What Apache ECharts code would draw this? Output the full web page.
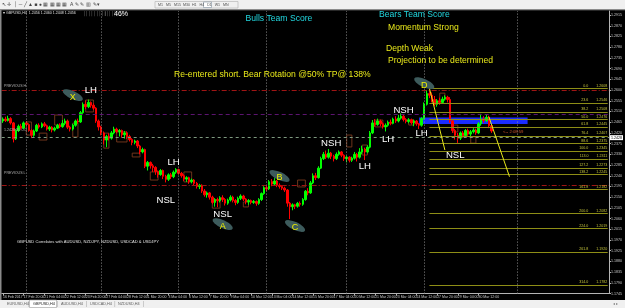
<!DOCTYPE html>
<html><head><meta charset="utf-8">
<script src="https://cdn.jsdelivr.net/npm/echarts@6/dist/echarts.min.js"></script>
<style>html,body{margin:0;padding:0;background:#000;}#c{width:625px;height:308px;}</style>
</head><body><div id="c"></div>
<script>
// ---- data ----
const tickLabels = ["16 Feb 2017","17 Feb 20:00","21 Feb 04:00","22 Feb 12:00","23 Feb 20:00","27 Feb 04:00","28 Feb 12:00","1 Mar 20:00","3 Mar 04:00","6 Mar 12:00","7 Mar 20:00","9 Mar 04:00","10 Mar 12:00","13 Mar 04:00","14 Mar 12:00","15 Mar 20:00","17 Mar 04:00","20 Mar 12:00","21 Mar 20:00","23 Mar 04:00","24 Mar 12:00","27 Mar 20:00","29 Mar 04:00","30 Mar 12:00"];
const barsPerTick = 8;
const totalSlots = 235; // bars + empty space on the right (chart shift)

const opens = [1.2470,1.2478,1.2472,1.2480,1.2462,1.2395,1.2430,1.2448,1.2440,1.2462,
 1.2455,1.2430,1.2410,1.2428,1.2452,1.2445,1.2458,1.2450,1.2436,1.2444,
 1.2432,1.2440,1.2452,1.2446,1.2460,1.2470,1.2444,1.2436,1.2452,1.2470,
 1.2466,1.2505,1.2540,1.2530,1.2548,1.2536,1.2524,1.2470,1.2445,1.2420,
 1.2390,1.2405,1.2398,1.2420,1.2436,1.2425,1.2430,1.2412,1.2420,1.2405,
 1.2392,1.2380,1.2386,1.2365,1.2340,1.2350,1.2280,1.2296,1.2282,1.2275,
 1.2258,1.2245,1.2262,1.2238,1.2225,1.2244,1.2236,1.2255,1.2266,1.2250,
 1.2240,1.2226,1.2232,1.2215,1.2222,1.2208,1.2195,1.2200,1.2176,1.2160,
 1.2168,1.2150,1.2128,1.2140,1.2135,1.2148,1.2140,1.2125,1.2138,1.2150,
 1.2136,1.2128,1.2145,1.2155,1.2142,1.2130,1.2136,1.2128,1.2132,1.2124,
 1.2140,1.2165,1.2190,1.2185,1.2215,1.2205,1.2218,1.2200,1.2195,1.2188,
 1.2180,1.2125,1.2110,1.2118,1.2112,1.2124,1.2120,1.2140,1.2175,1.2168,
 1.2210,1.2240,1.2232,1.2272,1.2312,1.2330,1.2318,1.2335,1.2322,1.2312,
 1.2330,1.2340,1.2326,1.2312,1.2318,1.2305,1.2314,1.2330,1.2318,1.2340,
 1.2352,1.2340,1.2360,1.2420,1.2462,1.2455,1.2470,1.2458,1.2445,1.2452,
 1.2465,1.2460,1.2478,1.2470,1.2482,1.2490,1.2476,1.2468,1.2475,1.2462,
 1.2470,1.2458,1.2452,1.2480,1.2540,1.2585,1.2578,1.2560,1.2540,1.2555,
 1.2548,1.2562,1.2570,1.2560,1.2470,1.2430,1.2410,1.2398,1.2420,1.2408,
 1.2430,1.2415,1.2425,1.2432,1.2420,1.2458,1.2478,1.2472,1.2485,1.2450];
const closes = [1.2478,1.2472,1.2480,1.2462,1.2395,1.2430,1.2448,1.2440,1.2462,1.2455,
 1.2430,1.2410,1.2428,1.2452,1.2445,1.2458,1.2450,1.2436,1.2444,1.2432,
 1.2440,1.2452,1.2446,1.2460,1.2470,1.2444,1.2436,1.2452,1.2470,1.2466,
 1.2505,1.2540,1.2530,1.2548,1.2536,1.2524,1.2470,1.2445,1.2420,1.2390,
 1.2405,1.2398,1.2420,1.2436,1.2425,1.2430,1.2412,1.2420,1.2405,1.2392,
 1.2380,1.2386,1.2365,1.2340,1.2350,1.2280,1.2296,1.2282,1.2275,1.2258,
 1.2245,1.2262,1.2238,1.2225,1.2244,1.2236,1.2255,1.2266,1.2250,1.2240,
 1.2226,1.2232,1.2215,1.2222,1.2208,1.2195,1.2200,1.2176,1.2160,1.2168,
 1.2150,1.2128,1.2140,1.2135,1.2148,1.2140,1.2125,1.2138,1.2150,1.2136,
 1.2128,1.2145,1.2155,1.2142,1.2130,1.2136,1.2128,1.2132,1.2124,1.2140,
 1.2165,1.2190,1.2185,1.2215,1.2205,1.2218,1.2200,1.2195,1.2188,1.2180,
 1.2125,1.2110,1.2118,1.2112,1.2124,1.2120,1.2140,1.2175,1.2168,1.2210,
 1.2240,1.2232,1.2272,1.2312,1.2330,1.2318,1.2335,1.2322,1.2312,1.2330,
 1.2340,1.2326,1.2312,1.2318,1.2305,1.2314,1.2330,1.2318,1.2340,1.2352,
 1.2340,1.2360,1.2420,1.2462,1.2455,1.2470,1.2458,1.2445,1.2452,1.2465,
 1.2460,1.2478,1.2470,1.2482,1.2490,1.2476,1.2468,1.2475,1.2462,1.2470,
 1.2458,1.2452,1.2480,1.2540,1.2585,1.2578,1.2560,1.2540,1.2555,1.2548,
 1.2562,1.2570,1.2560,1.2470,1.2430,1.2410,1.2398,1.2420,1.2408,1.2430,
 1.2415,1.2425,1.2432,1.2420,1.2458,1.2478,1.2472,1.2485,1.2450,1.2428];
const lows = [1.2462,1.2466,1.2468,1.2455,1.2380,1.2390,1.2424,1.2433,1.2436,1.2446,
 1.2425,1.2398,1.2404,1.2424,1.2438,1.2440,1.2444,1.2430,1.2428,1.2422,
 1.2426,1.2436,1.2440,1.2442,1.2452,1.2436,1.2426,1.2430,1.2446,1.2458,
 1.2462,1.2500,1.2520,1.2524,1.2526,1.2516,1.2462,1.2430,1.2410,1.2372,
 1.2360,1.2388,1.2392,1.2414,1.2418,1.2405,1.2400,1.2396,1.2395,1.2384,
 1.2368,1.2372,1.2356,1.2330,1.2334,1.2272,1.2262,1.2270,1.2256,1.2244,
 1.2232,1.2240,1.2226,1.2212,1.2218,1.2226,1.2230,1.2248,1.2244,1.2232,
 1.2218,1.2214,1.2206,1.2208,1.2200,1.2186,1.2184,1.2168,1.2152,1.2148,
 1.2140,1.2120,1.2110,1.2108,1.2128,1.2130,1.2115,1.2118,1.2132,1.2128,
 1.2116,1.2122,1.2138,1.2134,1.2120,1.2118,1.2120,1.2122,1.2114,1.2118,
 1.2134,1.2160,1.2176,1.2180,1.2196,1.2200,1.2192,1.2186,1.2180,1.2172,
 1.2110,1.2058,1.2095,1.2100,1.2106,1.2110,1.2114,1.2135,1.2158,1.2164,
 1.2205,1.2222,1.2228,1.2268,1.2306,1.2310,1.2312,1.2310,1.2300,1.2306,
 1.2324,1.2318,1.2302,1.2296,1.2296,1.2298,1.2308,1.2300,1.2312,1.2330,
 1.2306,1.2334,1.2355,1.2415,1.2446,1.2450,1.2448,1.2438,1.2426,1.2446,
 1.2452,1.2456,1.2462,1.2464,1.2476,1.2468,1.2460,1.2460,1.2455,1.2448,
 1.2450,1.2436,1.2446,1.2476,1.2535,1.2566,1.2548,1.2532,1.2530,1.2538,
 1.2544,1.2556,1.2548,1.2462,1.2420,1.2392,1.2378,1.2390,1.2400,1.2402,
 1.2408,1.2400,1.2418,1.2412,1.2415,1.2450,1.2462,1.2466,1.2440,1.2420];
const highs = [1.2485,1.2488,1.2492,1.2486,1.2466,1.2436,1.2455,1.2458,1.2468,1.2470,
 1.2460,1.2436,1.2434,1.2458,1.2460,1.2464,1.2466,1.2455,1.2450,1.2448,
 1.2446,1.2458,1.2460,1.2474,1.2480,1.2476,1.2450,1.2458,1.2476,1.2480,
 1.2512,1.2548,1.2556,1.2560,1.2552,1.2544,1.2528,1.2476,1.2450,1.2426,
 1.2412,1.2418,1.2428,1.2446,1.2442,1.2436,1.2434,1.2428,1.2426,1.2412,
 1.2398,1.2392,1.2390,1.2370,1.2358,1.2354,1.2302,1.2300,1.2290,1.2280,
 1.2262,1.2268,1.2266,1.2244,1.2250,1.2252,1.2262,1.2272,1.2270,1.2256,
 1.2246,1.2238,1.2236,1.2228,1.2226,1.2214,1.2206,1.2204,1.2184,1.2174,
 1.2172,1.2156,1.2146,1.2148,1.2154,1.2158,1.2146,1.2144,1.2158,1.2156,
 1.2142,1.2152,1.2162,1.2160,1.2146,1.2142,1.2140,1.2138,1.2136,1.2146,
 1.2170,1.2196,1.2198,1.2222,1.2226,1.2230,1.2222,1.2208,1.2200,1.2194,
 1.2184,1.2130,1.2124,1.2122,1.2130,1.2132,1.2146,1.2180,1.2188,1.2218,
 1.2250,1.2252,1.2280,1.2320,1.2340,1.2346,1.2352,1.2340,1.2328,1.2338,
 1.2346,1.2344,1.2330,1.2324,1.2322,1.2320,1.2340,1.2336,1.2356,1.2366,
 1.2358,1.2368,1.2428,1.2474,1.2478,1.2480,1.2476,1.2464,1.2460,1.2472,
 1.2476,1.2484,1.2490,1.2496,1.2502,1.2495,1.2482,1.2482,1.2480,1.2476,
 1.2474,1.2462,1.2486,1.2548,1.2600,1.2608,1.2590,1.2575,1.2562,1.2568,
 1.2572,1.2578,1.2576,1.2570,1.2476,1.2436,1.2420,1.2426,1.2428,1.2436,
 1.2438,1.2432,1.2440,1.2438,1.2465,1.2500,1.2490,1.2495,1.2492,1.2456];

const fibRatios = ['0.0','23.6','38.2','50.0','61.8','76.4','88.6','100.0','113.0','127.2','138.2','161.8','200.0','224.0','261.8','314.0'];
const fibPrices = [1.2608,1.2546,1.2508,1.2476,1.2445,1.2407,1.2375,1.2345,1.2311,1.2273,1.2245,1.2182,1.2082,1.2019,1.1920,1.1782];
const fibStartBar = 165;
const currentPrice = 1.2428;
const prevHigh = 1.2610, prevLow = 1.2245, pivotLine = 1.2487;
const separators = [9, 38, 68, 102, 133, 163, 199];
const waveMarks = [['X',27,1.2579],['A',85,1.2037],['B',107,1.2239],['C',113,1.2029],['D',163,1.2629]];
const swingLabels = [['LH',34,1.2600],['LH',66,1.2298],['NSL',63,1.2138],['NSL',85,1.2079],['NSH',127,1.2377],['LH',140,1.2281],['LH',149,1.2394],['NSH',155,1.2516],['LH',162,1.2419],['NSL',175,1.2327]];
const diagLines = [[[165,1.2608],[171,1.2348]],[[188,1.2488],[196,1.2236]]];
const blueZone = [[161,1.2485],[203,1.2457]];
// brown swing boxes: [fromBar, toBar, top, bottom]
const swingBoxes = [[9,11,1.2466,1.2411],[14,17,1.2419,1.2390],[20,23,1.2495,1.2453],[27,29,1.2461,1.2403],
 [32,35,1.2558,1.2508],[39,41,1.2419,1.2356],[44,48,1.2424,1.2382],[50,53,1.2335,1.2319],[57,60,1.2256,1.2222],
 [70,73,1.2256,1.2214],[81,84,1.2138,1.2104],[93,95,1.2130,1.2109],[114,117,1.2222,1.2193],[133,135,1.2411,1.2361],
 [139,141,1.2369,1.2327],[144,147,1.2474,1.2445],[157,159,1.2474,1.2453],[169,171,1.2587,1.2558],[174,176,1.2453,1.2424],[181,183,1.2403,1.2377]];

// ---- build chart ----
const categories = [];
for (let i = 0; i < totalSlots; i++) categories.push(String(i));
const candles = opens.map((o, i) => [o, closes[i], lows[i], highs[i]]);
const isTick = (idx) => idx % barsPerTick === 0 && idx / barsPerTick < tickLabels.length;
const FONT = 'Liberation Sans, Arial, sans-serif';

const mlData = [];
mlData.push({yAxis: prevHigh, lineStyle:{color:'#a01414', type:[5,2,1,2], width:1}});
mlData.push({yAxis: pivotLine, lineStyle:{color:'#5c1470', type:[4,3], width:1}});
mlData.push({yAxis: prevLow, lineStyle:{color:'#a01414', type:[5,2,1,2], width:1}});
mlData.push({yAxis: currentPrice, lineStyle:{color:'#7f9a80', type:[3,3], width:1},
  label:{show:true, position:'end', formatter: currentPrice.toFixed(4), color:'#000', backgroundColor:'#fff', fontSize:3.6, padding:[1,1,0,1], distance:1}});
separators.forEach(s => mlData.push({xAxis: s, lineStyle:{color:'#8a8a8a', type:[1,2], width:1}}));
fibPrices.forEach((p, k) => mlData.push([
  {coord:[fibStartBar, p], lineStyle:{color:'#8e8e16', type:'solid', width:1},
   label:{show:true, position:'insideEndTop', formatter: fibRatios[k] + '        ' + p.toFixed(4), color:'#c4c43c', fontSize:3.6, distance:0.5}},
  {coord:[totalSlots - 1, p]}
]));
diagLines.forEach(d => mlData.push([{coord:d[0], lineStyle:{color:'#e8e81a', type:'solid', width:1}}, {coord:d[1]}]));

const mpData = [];
waveMarks.forEach(w => mpData.push({coord:[w[1], w[2]], symbol:'circle', symbolSize:[22,8], symbolRotate:-25,
  itemStyle:{color:'#3d5b5c'}, label:{show:true, formatter:w[0], color:'#f0f000', fontSize:9, offset:[0,2]}}));
swingLabels.forEach(s => mpData.push({coord:[s[1], s[2]], symbol:'circle', symbolSize:1, itemStyle:{color:'rgba(0,0,0,0)'},
  label:{show:true, formatter:s[0], color:'#ffffff', fontSize:9.6}}));

const maData = [[{coord:blueZone[0], itemStyle:{color:'#1a2cff', borderWidth:0}}, {coord:blueZone[1]}]];
swingBoxes.forEach(b => maData.push([{coord:[b[0], b[2]], itemStyle:{color:'rgba(0,0,0,0)', borderColor:'#7a3a1e', borderWidth:0.9}}, {coord:[b[1], b[3]]}]));

function txt(x, y, text, fill, size, extra) {
  return Object.assign({type:'text', x:x, y:y, silent:true, z:100,
    style:{text:text, fill:fill, font: size + 'px ' + FONT, align:'left', verticalAlign:'middle'}}, extra || {});
}
const graphics = [
  {type:'rect', shape:{x:0,y:0,width:625,height:9.5}, style:{fill:'#f0f0f0'}, z:90},
  {type:'rect', shape:{x:0,y:9.5,width:625,height:0.8}, style:{fill:'#a0a0a0'}, z:90},
  {type:'rect', shape:{x:0,y:10,width:1.5,height:290}, style:{fill:'#8a8a8a'}, z:90},
  {type:'rect', shape:{x:0,y:300,width:625,height:8}, style:{fill:'#f0f0f0'}, z:90},
  {type:'rect', shape:{x:29.5,y:300,width:27,height:7.5}, style:{fill:'#ffffff', stroke:'#a0a0a0', lineWidth:0.6}, z:91},
  txt(2, 4.8, '\u2196 \u271B  \u2502 \u2500 \u2571 \u25B2 \u25A0 \u25CF \u25A6 \u25A6 \u25A6 \u25A6  A \u270E \u270E \u25A5  \u270E\u25BE', '#404040', 5),
  {type:'rect', shape:{x:155,y:1.5,width:83,height:6.5}, style:{fill:'none', stroke:'#b0b0b0', lineWidth:0.6}, z:95},
  {type:'rect', shape:{x:203.5,y:2,width:8,height:5.5}, style:{fill:'#ffffff', stroke:'#8090a0', lineWidth:0.6}, z:96},
  txt(158, 4.8, 'M1   M5   M15  M30  H1   H4   D1   W1   MN', '#505050', 3.6),
  txt(3, 13, '\u25BE GBPUSD,H4  1.2456 1.2460 1.2448 1.2456', '#e0e0e0', 3.6),
  txt(83, 14.3, '\u2502\u2502\u2502\u2502\u2502\u2502\u2502\u2502\u2503\u2502\u2502\u2502\u2502\u2502\u2502\u2502', '#8a8a8a', 4.2),
  txt(114, 14.3, '46%', '#ffffff', 7),
  txt(245.5, 19, 'Bulls Team Score', '#22d8e0', 8.6),
  txt(379, 15, 'Bears Team Score', '#22d8e0', 8.6),
  txt(388, 27.7, 'Momentum Strong', '#e8e81a', 8.6),
  txt(386, 49, 'Depth Weak', '#e8e81a', 8.6),
  txt(388, 60.7, 'Projection to be determined', '#e8e81a', 8.6),
  txt(174, 75, 'Re-entered short. Bear Rotation @50% TP@ 138%', '#e8e81a', 8.6),
  txt(4, 85.5, 'PREVIOUS H', '#b0b0b0', 3.6),
  txt(4, 129.5, '1.2428 SL 0.0', '#b0b0b0', 3.6),
  txt(4, 172.5, 'PREVIOUS L', '#b0b0b0', 3.6),
  txt(503, 131.5, '<-- 2:08:59', '#c8502a', 4.2),
  txt(17, 242, 'GBPUSD Correlates with AUDUSD, NZDJPY, NZDUSD, USDCAD & USDJPY', '#e0e0e0', 4.1),
  txt(7, 304, 'EURUSD,H4', '#606060', 3.8),
  txt(33, 304, 'GBPUSD,H4', '#202020', 3.8),
  txt(61, 304, 'AUDUSD,H4', '#606060', 3.8),
  txt(90, 304, 'USDCAD,H4', '#606060', 3.8),
  txt(118, 304, 'NZDUSD,H4', '#606060', 3.8),
  txt(613, 304, '\u25C2 \u25B8', '#808080', 4.2)
];
[28.5, 57, 86, 114.5, 143].forEach(x => graphics.push({type:'rect', shape:{x:x,y:301,width:0.6,height:6}, style:{fill:'#b0b0b0'}, z:92}));

const chart = echarts.init(document.getElementById('c'), null, {renderer:'canvas'});
chart.setOption({
  animation:false,
  backgroundColor:'#000',
  textStyle:{fontFamily:FONT},
  grid:{left:1.7, top:11, width:610.3, height:282.6},
  xAxis:{type:'category', data:categories, boundaryGap:true,
    axisLine:{show:true, lineStyle:{color:'#b4b4b4', width:1}},
    axisTick:{show:true, interval:isTick, length:2, alignWithLabel:true, lineStyle:{color:'#b4b4b4'}},
    axisLabel:{interval:isTick, formatter:(v, i) => tickLabels[Math.round(Number(v) / barsPerTick)], align:'left',
      fontSize:3.5, color:'#c8c8c8', margin:1.8},
    splitLine:{show:false}},
  yAxis:{type:'value', position:'right', min:1.1745, max:1.2932, interval:0.0045, scale:true,
    axisLine:{show:true, lineStyle:{color:'#b4b4b4'}},
    axisTick:{show:true, length:2, lineStyle:{color:'#b4b4b4'}},
    axisLabel:{formatter:(v) => v.toFixed(4), fontSize:3.6, color:'#c8c8c8', margin:2, showMaxLabel:false},
    splitLine:{show:false}},
  series:[{
    type:'candlestick', data:candles, barWidth:2,
    itemStyle:{color:'#00ff00', color0:'#ff0000', borderColor:'#00ff00', borderColor0:'#ff0000', borderWidth:1},
    markArea:{silent:true, data:maData},
    markLine:{silent:true, symbol:['none','none'], label:{show:false}, data:mlData},
    markPoint:{silent:true, data:mpData}
  }],
  graphic:graphics
});
</script></body></html>
